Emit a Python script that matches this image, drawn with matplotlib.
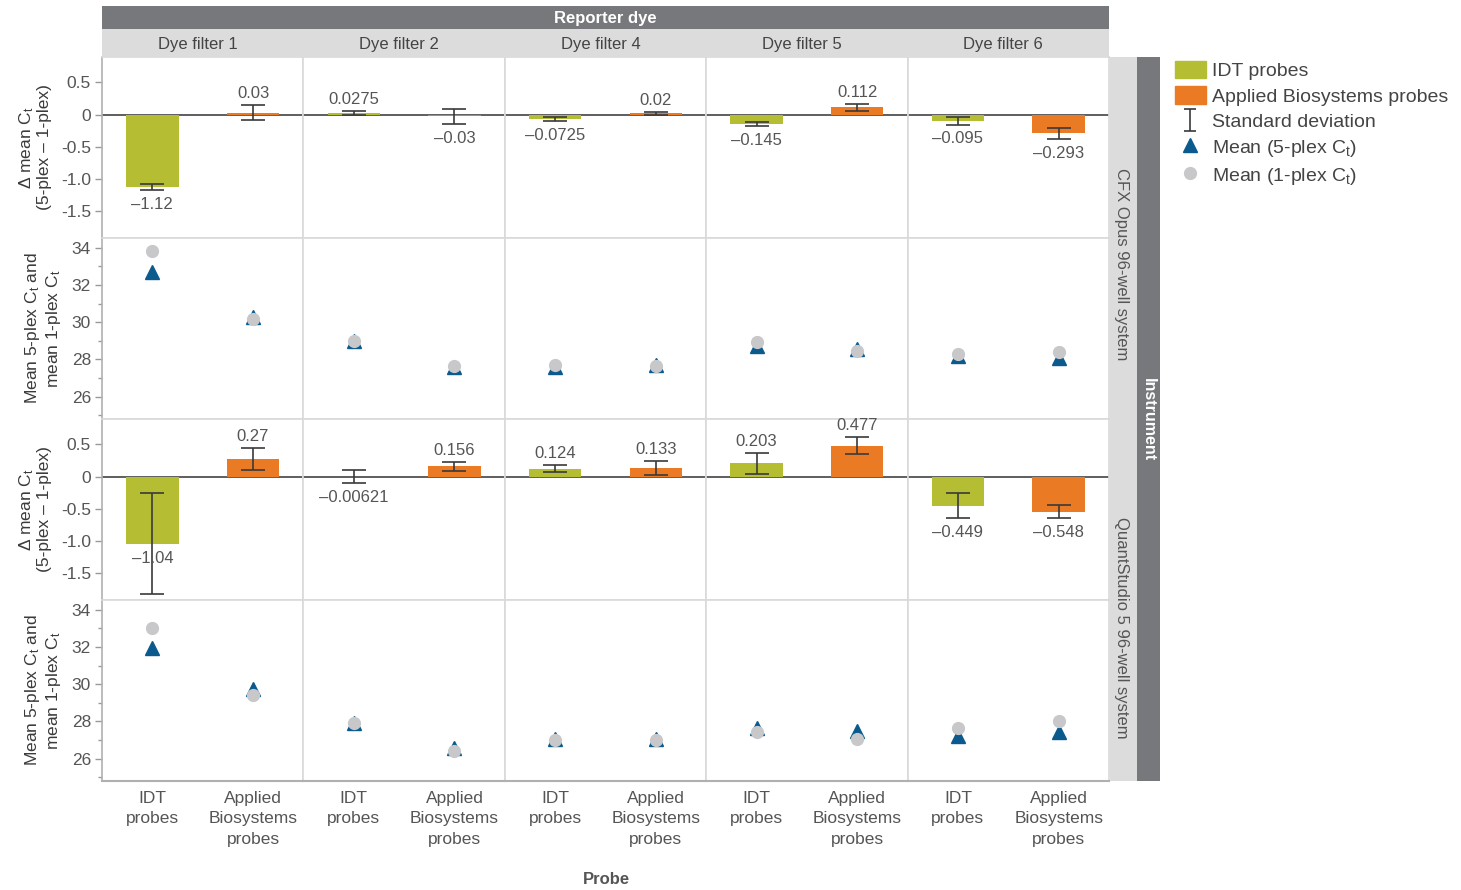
import matplotlib as mpl
import matplotlib.pyplot as plt
from matplotlib.patches import Rectangle, Patch
from matplotlib.lines import Line2D
from matplotlib.path import Path

# ---- data ----
filters = ["Dye filter 1", "Dye filter 2", "Dye filter 4", "Dye filter 5", "Dye filter 6"]
probes = ["IDT\nprobes", "Applied\nBiosystems\nprobes"]
instruments = ["CFX Opus 96-well system", "QuantStudio 5 96-well system"]

cfx_delta_idt = [-1.12, 0.0275, -0.0725, -0.145, -0.095]
cfx_delta_ab = [0.03, -0.03, 0.02, 0.112, -0.293]
cfx_sd_idt = [0.045, 0.03, 0.035, 0.035, 0.06]
cfx_sd_ab = [0.115, 0.115, 0.02, 0.05, 0.085]
cfx_5plex_idt = [32.7, 29.0, 27.6, 28.75, 28.2]
cfx_1plex_idt = [33.85, 29.0, 27.7, 28.95, 28.3]
cfx_5plex_ab = [30.3, 27.6, 27.7, 28.55, 28.1]
cfx_1plex_ab = [30.2, 27.65, 27.65, 28.45, 28.4]

qs_delta_idt = [-1.04, -0.00621, 0.124, 0.203, -0.449]
qs_delta_ab = [0.27, 0.156, 0.133, 0.477, -0.548]
qs_sd_idt = [0.78, 0.1, 0.055, 0.16, 0.2]
qs_sd_ab = [0.176, 0.07, 0.11, 0.13, 0.1]
qs_5plex_idt = [31.95, 27.9, 27.07, 27.65, 27.2]
qs_1plex_idt = [33.0, 27.9, 26.98, 27.46, 27.67]
qs_5plex_ab = [29.75, 26.6, 27.07, 27.5, 27.42]
qs_1plex_ab = [29.43, 26.4, 26.98, 27.05, 28.03]

GREEN = '#b5bd33'
ORANGE = '#ea7a24'
BLUE = '#0b5a8d'
LGRAY = '#c8c8ca'
TXT = '#555555'
ERR = '#3a3a3a'
GRID = '#d9d9d9'

mpl.rcParams['font.family'] = ['Liberation Sans', 'DejaVu Sans']
mpl.rcParams['mathtext.fontset'] = 'custom'
mpl.rcParams['mathtext.rm'] = 'Liberation Sans'
mpl.rcParams['mathtext.it'] = 'Liberation Sans'

W, H = 1461, 890
fig = plt.figure(figsize=(W / 100, H / 100), dpi=100)


def fx(px):
    return px / W


def fy(py):
    return 1 - py / H


gs = fig.add_gridspec(4, 5, left=fx(102), right=fx(1109), top=fy(57), bottom=fy(781),
                      hspace=0, wspace=0)

rows = [
    ('delta', cfx_delta_idt, cfx_delta_ab, cfx_sd_idt, cfx_sd_ab),
    ('mean', cfx_5plex_idt, cfx_1plex_idt, cfx_5plex_ab, cfx_1plex_ab),
    ('delta', qs_delta_idt, qs_delta_ab, qs_sd_idt, qs_sd_ab),
    ('mean', qs_5plex_idt, qs_1plex_idt, qs_5plex_ab, qs_1plex_ab),
]

delta_label = 'Δ mean C$_\\mathregular{t}$\n(5-plex – 1-plex)'
mean_label = 'Mean 5-plex C$_\\mathregular{t}$ and\nmean 1-plex C$_\\mathregular{t}$'


def fmt(v):
    s = '%g' % v
    return s.replace('-', '\u2013')


for r, row in enumerate(rows):
    for c in range(5):
        ax = fig.add_subplot(gs[r, c])
        ax.set_xlim(-0.5, 1.5)
        for s in ax.spines.values():
            s.set_color(GRID)
            s.set_linewidth(1.2)
        if c == 0:
            ax.spines['left'].set_color('#b0b0b0')
        if r == 3:
            ax.spines['bottom'].set_color('#b0b0b0')
            ax.spines['bottom'].set_linewidth(1.5)
        ax.set_xticks([0, 1])
        if r == 3:
            ax.set_xticklabels(probes, fontsize=12.5, color=TXT, linespacing=1.45)
            ax.tick_params(axis='x', length=0, pad=7)
        else:
            ax.set_xticklabels([])
            ax.tick_params(axis='x', length=0)

        if row[0] == 'delta':
            _, idt, ab, sd_i, sd_a = row
            ax.set_ylim(-1.91, 0.89)
            ax.axhline(0, color='#333333', lw=1.1, zorder=1)
            vals = [idt[c], ab[c]]
            sds = [sd_i[c], sd_a[c]]
            ax.bar([0, 1], vals, width=0.52, color=[GREEN, ORANGE], zorder=2)
            ax.errorbar([0, 1], vals, yerr=sds, fmt='none', ecolor=ERR, elinewidth=1.2,
                        capsize=8.5, capthick=1.2, zorder=3)
            for x, v, e in zip([0, 1], vals, sds):
                if v >= 0:
                    ax.annotate(fmt(v), (x, v + e), xytext=(0, 3), textcoords='offset points',
                                ha='center', va='bottom', fontsize=12, color=TXT, zorder=4)
                else:
                    anchor = v - e if v - e > -1.7 else v
                    ax.annotate(fmt(v), (x, anchor), xytext=(0, -5), textcoords='offset points',
                                ha='center', va='top', fontsize=12, color=TXT, zorder=4)
            ax.set_yticks([0.5, 0, -0.5, -1.0, -1.5])
            ax.set_yticklabels(['0.5', '0', '-0.5', '-1.0', '-1.5'])
            ylab = delta_label
        else:
            _, p5_i, p1_i, p5_a, p1_a = row
            ax.set_ylim(24.8, 34.53)
            ax.plot([0, 1], [p5_i[c], p5_a[c]], linestyle='none', marker='^', ms=10.5,
                    color=BLUE, zorder=2)
            ax.plot([0, 1], [p1_i[c], p1_a[c]], linestyle='none', marker='o', ms=8.5,
                    color=LGRAY, zorder=3)
            ax.set_yticks([26, 28, 30, 32, 34])
            ax.set_yticks([25, 27, 29, 31, 33], minor=True)
            ylab = mean_label

        if c == 0:
            ax.tick_params(axis='y', which='major', length=5, width=1, color='#999999',
                           labelsize=12.5, labelcolor=TXT, pad=3)
            ax.tick_params(axis='y', which='minor', length=3, width=1, color='#999999')
            ax.set_ylabel(ylab, fontsize=12.5, color='#3a3a3a', linespacing=1.15, labelpad=6)
        else:
            ax.tick_params(axis='y', which='both', length=0, labelleft=False)

# ---- header strips ----
fig.add_artist(Rectangle((fx(102), fy(29)), fx(1109) - fx(102), fy(6) - fy(29),
                         transform=fig.transFigure, color='#77787b', lw=0))
fig.text(fx(605), fy(19), 'Reporter dye', ha='center', va='center', color='white',
         fontsize=12, fontweight='bold')
fig.add_artist(Rectangle((fx(102), fy(57)), fx(1109) - fx(102), fy(29) - fy(57),
                         transform=fig.transFigure, color='#dcdcdd', lw=0))
col_w = (1109 - 102) / 5
for i, name in enumerate(filters):
    fig.text(fx(97 + col_w * (i + 0.5)), fy(44), name, ha='center', va='center',
             color='#444444', fontsize=12)

# ---- right strips ----
fig.add_artist(Rectangle((fx(1110), fy(781)), fx(1137) - fx(1110), fy(57) - fy(781),
                         transform=fig.transFigure, color='#dcdcdd', lw=0))
fig.add_artist(Rectangle((fx(1137), fy(781)), fx(1160) - fx(1137), fy(57) - fy(781),
                         transform=fig.transFigure, color='#77787b', lw=0))
fig.text(fx(1122), fy(264), instruments[0], rotation=270, ha='center', va='center',
         color='#555555', fontsize=12)
fig.text(fx(1122), fy(628), instruments[1], rotation=270, ha='center', va='center',
         color='#555555', fontsize=12)
fig.text(fx(1148), fy(420), 'Instrument', rotation=270, ha='center', va='center',
         color='white', fontsize=11.5, fontweight='bold')

fig.text(fx(606), fy(879), 'Probe', ha='center', va='center', color='#555555',
         fontsize=12, fontweight='bold')

# ---- legend ----
sd_marker = Path([(-0.5, 1), (0.5, 1), (0, 1), (0, -1), (-0.5, -1), (0.5, -1)],
                 [Path.MOVETO, Path.LINETO, Path.MOVETO, Path.LINETO, Path.MOVETO, Path.LINETO])
handles = [
    Patch(color=GREEN, label='IDT probes'),
    Patch(color=ORANGE, label='Applied Biosystems probes'),
    Line2D([], [], linestyle='none', marker=sd_marker, ms=16, mew=1.2, color=ERR,
           fillstyle='none', label='Standard deviation'),
    Line2D([], [], linestyle='none', marker='^', ms=10.5, color=BLUE,
           label='Mean (5-plex C$_\\mathregular{t}$)'),
    Line2D([], [], linestyle='none', marker='o', ms=8.5, color=LGRAY,
           label='Mean (1-plex C$_\\mathregular{t}$)'),
]
leg = fig.legend(handles=handles, loc='upper left', bbox_to_anchor=(fx(1169), fy(55)),
                 frameon=False, fontsize=14, handlelength=1.6, handleheight=1.0,
                 handletextpad=0.3, labelspacing=0.32, borderaxespad=0, borderpad=0.3)
for t in leg.get_texts():
    t.set_color('#444444')

fig.savefig('out.png', dpi=100)
